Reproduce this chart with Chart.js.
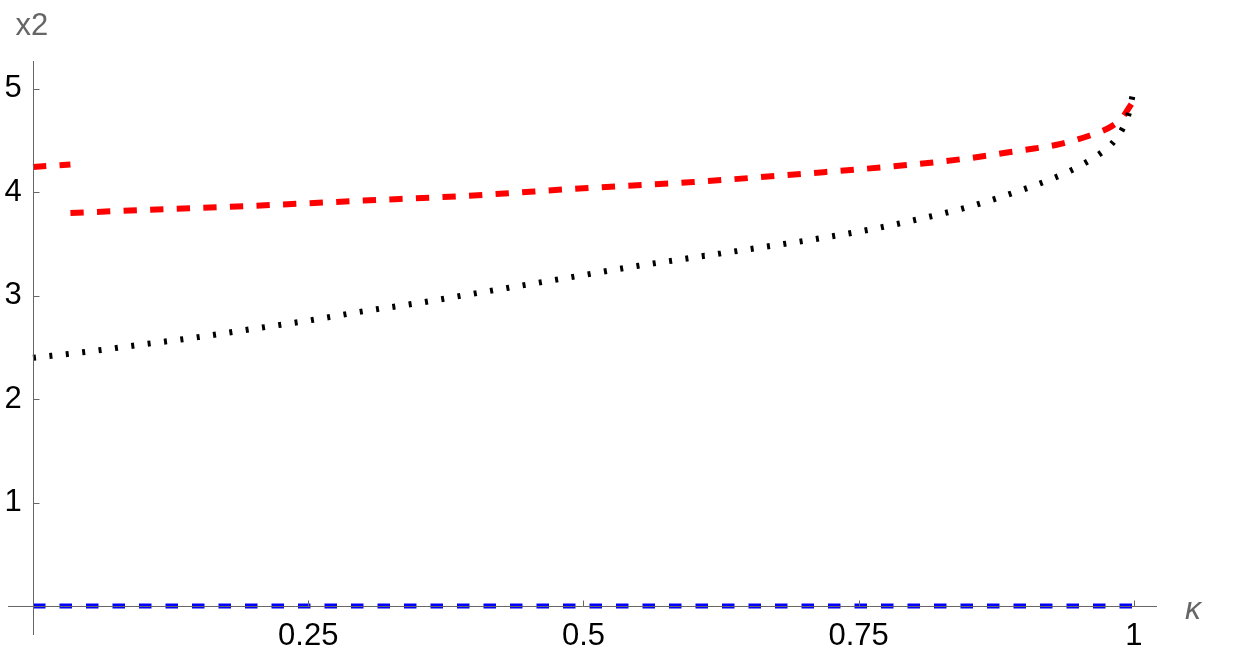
<!DOCTYPE html>
<html><head><meta charset="utf-8">
<script src="https://cdn.jsdelivr.net/npm/chart.js@4"></script>
<style>html,body{margin:0;padding:0;background:#fff;overflow:hidden}#wrap{width:1237px;height:652px}</style>
</head><body><div id="wrap"><canvas id="c" width="1237" height="652"></canvas></div>
<script>
// ---- data ----
const xTicks = [0.25, 0.5, 0.75, 1];
const yTicks = [1, 2, 3, 4, 5];
const xLabel = 'κ';
const yLabel = 'x2';

const blueK = [0, 0.25, 0.5, 0.75, 1];
const blueV = [0, 0, 0, 0, 0];

const blackK = [0, 0.05, 0.1, 0.15, 0.2, 0.25, 0.3, 0.35, 0.4, 0.45, 0.5, 0.55, 0.6, 0.65, 0.7, 0.75, 0.8, 0.85, 0.9, 0.93, 0.95, 0.97, 0.98, 0.99, 0.995, 1];
const blackV = [2.40, 2.46, 2.53, 2.60, 2.68, 2.76, 2.85, 2.93, 3.02, 3.11, 3.20, 3.29, 3.37, 3.45, 3.53, 3.62, 3.73, 3.86, 4.03, 4.15, 4.25, 4.38, 4.47, 4.62, 4.75, 5.00];

const redLeftK = [0, 0.034];
const redLeftV = [4.245, 4.27];

const redK = [0.034, 0.1, 0.2, 0.3, 0.4, 0.5, 0.6, 0.7, 0.8, 0.85, 0.9, 0.93, 0.96, 0.98, 0.99, 0.995, 1];
const redV = [3.80, 3.83, 3.87, 3.92, 3.97, 4.04, 4.10, 4.18, 4.27, 4.33, 4.41, 4.46, 4.55, 4.64, 4.73, 4.81, 4.89];

// ---- helpers ----
const pts = (ks, vs) => ks.map((k, i) => ({x: k, y: vs[i]}));
const AXIS = 'rgb(102,102,102)';
const FONT = '"Liberation Sans", Arial, sans-serif';
const noPad = s => { s.paddingTop = 0; s.paddingBottom = 0; s.paddingLeft = 0; s.paddingRight = 0; };

const axesPlugin = {
  id: 'mmaAxes',
  afterDatasetsDraw(chart) {
    const {ctx, chartArea: a, scales: {x, y}} = chart;
    const x0 = Math.round(x.getPixelForValue(0)) + 0.5;
    const y0 = Math.round(y.getPixelForValue(0)) + 0.5;
    ctx.save();
    ctx.strokeStyle = AXIS;
    ctx.lineWidth = 1;
    ctx.beginPath();
    ctx.moveTo(a.left, y0); ctx.lineTo(a.right, y0);
    ctx.moveTo(x0, a.top); ctx.lineTo(x0, a.bottom);
    xTicks.forEach(v => { const px = Math.round(x.getPixelForValue(v)) + 0.5; ctx.moveTo(px, y0); ctx.lineTo(px, y0 - 6); });
    yTicks.forEach(v => { const py = Math.round(y.getPixelForValue(v)) + 0.5; ctx.moveTo(x0, py); ctx.lineTo(x0 + 6, py); });
    ctx.stroke();
    ctx.fillStyle = AXIS;
    ctx.font = '31px ' + FONT;
    ctx.textBaseline = 'alphabetic';
    ctx.textAlign = 'left';
    ctx.fillText(yLabel, x0 - 18, a.top - 26);
    ctx.font = 'italic 32px ' + FONT;
    ctx.fillText(xLabel, a.right + 28, y0 + 12);
    ctx.restore();
  }
};

new Chart(document.getElementById('c'), {
  type: 'line',
  data: {
    datasets: [
      {data: pts(blueK, blueV), borderColor: 'rgb(0,0,255)', borderWidth: 5, borderDash: [12.5, 14], borderCapStyle: 'butt'},
      {data: pts(blackK, blackV), borderColor: '#000', borderWidth: 6, borderDash: [3, 13.5], borderCapStyle: 'butt', cubicInterpolationMode: 'monotone'},
      {data: pts(redLeftK, redLeftV), borderColor: 'rgb(255,0,0)', borderWidth: 6, borderDash: [13.3, 13.3], borderCapStyle: 'butt'},
      {data: pts(redK, redV), borderColor: 'rgb(255,0,0)', borderWidth: 6, borderDash: [13.3, 13.3], borderCapStyle: 'butt', cubicInterpolationMode: 'monotone'}
    ]
  },
  options: {
    responsive: false,
    animation: false,
    devicePixelRatio: 1,
    layout: {padding: {left: 8, right: 80, top: 61, bottom: 17}},
    elements: {point: {radius: 0, hoverRadius: 0}},
    plugins: {legend: {display: false}, tooltip: {enabled: false}},
    scales: {
      x: {
        type: 'linear', min: -0.0227, max: 1.021,
        position: {y: 0},
        afterBuildTicks: s => { s.ticks = xTicks.map(v => ({value: v})); },
        afterFit: noPad,
        ticks: {color: '#000', font: {family: FONT, size: 31}, padding: 12, maxRotation: 0, callback: v => String(v)},
        grid: {display: false, drawTicks: false},
        border: {display: false}
      },
      y: {
        type: 'linear', min: -0.28, max: 5.27,
        position: {x: -0.0103},
        afterBuildTicks: s => { s.ticks = yTicks.map(v => ({value: v})); },
        afterFit: noPad,
        ticks: {color: '#000', font: {family: FONT, size: 31}, padding: 0, callback: v => String(v)},
        grid: {display: false, drawTicks: false},
        border: {display: false}
      }
    }
  },
  plugins: [axesPlugin]
});
</script></body></html>
